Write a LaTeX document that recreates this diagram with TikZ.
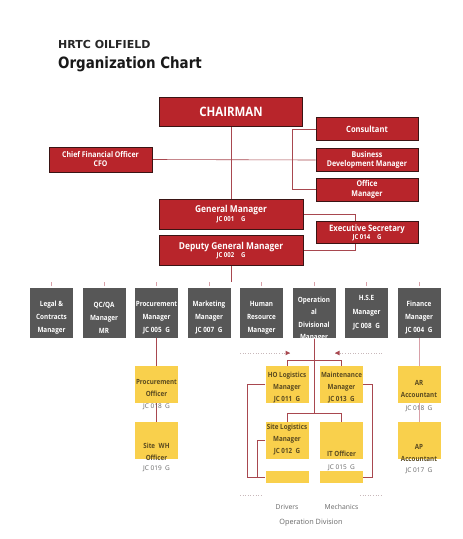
\documentclass[tikz,border=0pt]{standalone}
\usepackage{fontspec}
\setmainfont{Open Sans}
\newfontfamily\titlefont[FakeStretch=0.86]{DejaVu Sans}
\newfontfamily\titlewide{DejaVu Sans}
\newfontfamily\osc[FakeStretch=0.88]{Open Sans}
\usetikzlibrary{arrows.meta}
\definecolor{cred}{HTML}{B8252B}
\definecolor{credb}{HTML}{3A1414}
\definecolor{cgrey}{HTML}{575757}
\definecolor{cyel}{HTML}{F9D04C}
\definecolor{cytx}{HTML}{5A4A20}
\definecolor{cline}{HTML}{A8474F}
\definecolor{ctick}{HTML}{D8A0A8}
\definecolor{cfaint}{HTML}{C8B8BA}
\definecolor{cjc}{HTML}{666666}
\pgfdeclarelayer{bgzero}
\pgfdeclarelayer{bgone}
\pgfsetlayers{bgzero,bgone,main}
\tikzset{
  redbox/.style={fill=cred, draw=credb, line width=0.9pt, text=white, align=center, inner sep=0pt,
    font=\osc\bfseries\fontsize{9.5}{10}\selectfont},
  greybox/.style={fill=cgrey, minimum width=43pt, minimum height=50pt, inner sep=0pt},
  gtxt/.style={text=white, align=center, inner sep=0pt, font=\osc\bfseries\fontsize{7.2}{13}\selectfont},
  ybox/.style={fill=cyel, minimum width=43pt, minimum height=37pt, inner sep=0pt},
  ytxt/.style={text=cytx, align=center, inner sep=0pt, font=\osc\bfseries\fontsize{7.1}{12}\selectfont},
  jc/.style={text=cjc, inner sep=0pt, font=\fontsize{6.5}{7}\selectfont},
  conn/.style={draw=cline, line width=0.6pt},
  tick/.style={draw=ctick, line width=0.6pt},
  faint/.style={draw=cfaint, dotted, line width=0.6pt},
  captxt/.style={text=cjc, inner sep=0pt, font=\fontsize{6.8}{8}\selectfont}
}
\newcommand{\jcsub}[1]{\fontsize{6.8}{7}\selectfont #1}
\begin{document}
\begin{tikzpicture}[x=1pt,y=-1pt]
\begin{pgfonlayer}{bgzero}
\fill[white] (0,0) rectangle (463,539);
\end{pgfonlayer}
\useasboundingbox (0,0) rectangle (463,539);

% titles
\node[anchor=base west, inner sep=0pt, font=\titlewide\bfseries\fontsize{11}{12}\selectfont, text=black!85] (t1) at (58,48) {HRTC OILFIELD};
\node[anchor=base west, inner sep=0pt, font=\titlefont\bfseries\fontsize{15.6}{16}\selectfont, text=black!90] (t2) at (58,68) {Organization Chart};

% red boxes
\node[redbox, minimum width=143pt, minimum height=29pt, font=\osc\bfseries\fontsize{13}{14}\selectfont] (chair) at (231,112) {CHAIRMAN};
\node[redbox, minimum width=102pt, minimum height=23pt, font=\osc\bfseries\fontsize{8.6}{10}\selectfont] (cons) at (367,129) {Consultant};
\node[redbox, minimum width=102pt, minimum height=23pt, font=\osc\bfseries\fontsize{8}{9.5}\selectfont] (bdm) at (367,160) {Business\\Development Manager};
\node[redbox, minimum width=102pt, minimum height=23pt, font=\osc\bfseries\fontsize{8}{9.5}\selectfont] (office) at (367,189.5) {Office\\Manager};
\node[redbox, minimum width=103pt, minimum height=25pt, font=\osc\bfseries\fontsize{7.9}{9}\selectfont] (cfo) at (100.5,159.5) {Chief Financial Officer\\CFO};
\node[redbox, minimum width=144pt, minimum height=30pt] (gm) at (231,214) {General Manager\\[-1.5pt]{\jcsub{JC 001\quad G}}};
\node[redbox, minimum width=144pt, minimum height=30pt] (dgm) at (231,250.5) {Deputy General Manager\\[-1.5pt]{\jcsub{JC 002\quad G}}};
\node[redbox, minimum width=102pt, minimum height=22pt, font=\osc\bfseries\fontsize{8.8}{9}\selectfont] (exec) at (367,232.5) {Executive Secretary\\[-1pt]{\jcsub{JC 014\quad G}}};

% red connectors
\begin{pgfonlayer}{bgone}
\draw[conn] (chair.south) -- (gm.north);
\draw[conn] (cfo.east) -- (bdm.west);
\draw[conn] (cons.west) -- ++(-23,0) |- (office.west);
\draw[conn] (gm.east) -- ++(52,0) |- (dgm.east);
\end{pgfonlayer}
\draw[conn] (dgm.south) -- ++(0,16) coordinate (dgmend);

% grey row
\foreach \i/\x in {1/51.5,2/104,3/156.5,4/209,5/261.5,6/314,7/366.5,8/419}{
  \node[greybox] (g\i) at (\x,313) {};
  \draw[tick] ([yshift=1.5pt]g\i.north) -- ([yshift=6pt]g\i.north);
}
\node[gtxt] (g1t) at (51.5,318) {Legal \&\\Contracts\\Manager};
\node[gtxt] (g2t) at (104,318) {QC/QA\\Manager\\MR};
\node[gtxt] (g3t) at (156.5,318) {Procurement\\Manager\\JC 005\enspace G};
\node[gtxt] (g4t) at (209,318) {Marketing\\Manager\\JC 007\enspace G};
\node[gtxt] (g5t) at (261.5,318) {Human\\Resource\\Manager};
\begin{scope}
\clip (292.5,288) rectangle (335.5,341.5);
\node[gtxt, font=\osc\bfseries\fontsize{7.2}{12.3}\selectfont, anchor=north] (g6t) at (314,297) {Operation\\al\\Divisional\\Manager};
\end{scope}
\node[gtxt, font=\osc\bfseries\fontsize{7.2}{14}\selectfont] (g7t) at (366.5,312.5) {H.S.E\\Manager\\JC 008\enspace G};
\node[gtxt] (g8t) at (419,318) {Finance\\Manager\\JC 004\enspace G};

% procurement column
\node[ybox] (po) at (156.5,384.5) {};
\node[ytxt] (pot) at (156.5,387.5) {Procurement\\Officer};
\node[jc] (poj) at (156.5,407) {JC 018\enspace G};
\node[ybox] (sw) at (156.5,440.5) {};
\node[ytxt] (swt) at (156.5,451.5) {Site\enspace WH\\Officer};
\node[jc] (swj) at (156.5,469) {JC 019\enspace G};
\begin{pgfonlayer}{bgone}
\draw[conn] (g3.south) -- (po.north);
\draw[conn] (po.south) -- (sw.north);
\end{pgfonlayer}

% finance column
\node[ybox] (ar) at (419,384.5) {};
\node[ytxt] (art) at (419,389) {AR\\Accountant};
\node[jc] (arj) at (419,409) {JC 018\enspace G};
\node[ybox] (ap) at (419,440.5) {};
\node[ytxt] (apt) at (419,453) {AP\\Accountant};
\node[jc] (apj) at (419,471) {JC 017\enspace G};
\begin{pgfonlayer}{bgone}
\draw[tick] (g8.south) -- (ar.north);
\draw[tick] (ar.south) -- (ap.north);
\end{pgfonlayer}

% operation division
\node[ybox] (ho) at (287,384.5) {};
\node[ytxt] (hot) at (287,388) {HO Logistics\\Manager\\JC 011\enspace G};
\node[ybox] (mt) at (341.5,384.5) {};
\node[ytxt] (mtt) at (341.5,388) {Maintenance\\Manager\\JC 013\enspace G};
\node[ybox] (sl) at (287,440.5) {};
\node[ytxt] (slt) at (287,439.5) {Site Logistics\\Manager\\JC 012\enspace G};
\node[ybox] (it) at (341.5,440.5) {};
\node[ytxt] (itt) at (341.5,454) {IT Officer};
\node[jc] (itj) at (341.5,467.5) {JC 015\enspace G};
\node[ybox, minimum height=12pt] (drv) at (287,477) {};
\node[ybox, minimum height=12pt] (mech) at (341.5,477) {};
\coordinate (opjoin) at (314,413);
\begin{pgfonlayer}{bgone}
\draw[conn] (g6.south) -- (opjoin);
\draw[conn] (ho.north) -- ++(0,-6) -| (mt.north);
\draw[conn] (sl.north) -- ++(0,-9) -| (it.north);
\draw[conn] (ho.west) -- ++(-18,0) |- (drv.west);
\draw[conn] (sl.west) -- ++(-8,0) |- (drv.west);
\draw[conn] (mt.east) -- ++(9,0) |- (mech.east);
\end{pgfonlayer}

% faint division frame
\coordinate (fa) at (240,353);
\coordinate (fb) at (290,353);
\coordinate (fc) at (382,353);
\coordinate (fd) at (335,353);
\draw[faint] (fa) -- (fb);
\draw[faint] (fc) -- (fd);
\fill[cline] (290,353) -- ++(-4.5,-2.3) -- ++(0,4.6) -- cycle;
\fill[cline] (335,353) -- ++(4.5,-2.3) -- ++(0,4.6) -- cycle;
\draw[faint] (240,495) -- (262,495);
\draw[faint] (360,495) -- (382,495);

\node[captxt] (drvl) at (287,507) {Drivers};
\node[captxt] (mechl) at (341.5,507) {Mechanics};
\node[captxt, font=\fontsize{7.3}{8}\selectfont] (opdiv) at (311,523) {Operation Division};
\end{tikzpicture}
\end{document}
